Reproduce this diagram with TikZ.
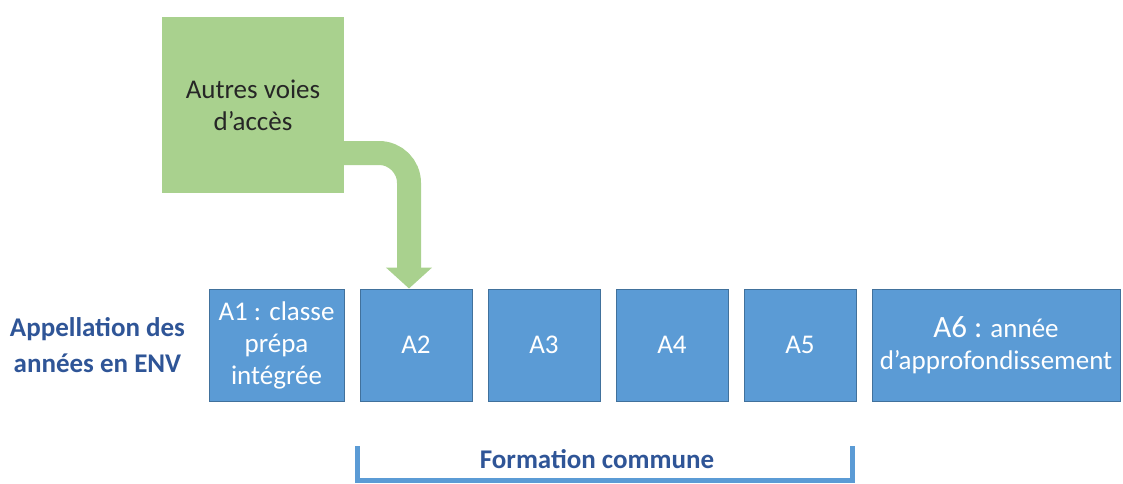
\documentclass[tikz,border=0pt]{standalone}
\usepackage{fontspec}
\setmainfont{Carlito}
\usepackage{tikz}
\definecolor{envblue}{RGB}{91,155,213}
\definecolor{envborder}{RGB}{65,113,156}
\definecolor{envdark}{RGB}{47,85,151}
\definecolor{voiegreen}{RGB}{169,209,142}
\usetikzlibrary{positioning}
\usetikzlibrary{arrows.meta}

\begin{document}
\begin{tikzpicture}[x=1pt,y=-1pt,
    node distance=15pt,
    year/.style={draw=envborder,fill=envblue,line width=1pt,text=white,
        minimum width=112pt,minimum height=112pt,inner sep=2pt,align=center,
        font=\fontsize{27}{32}\selectfont},
    voie/.style={fill=voiegreen,minimum width=182pt,minimum height=176pt,
        align=center,text=black!85,font=\fontsize{27}{32}\selectfont},
    rowtitle/.style={align=center,text=envdark,font=\fontsize{27}{36}\selectfont\bfseries},
    entry/.style={draw=voiegreen,line width=24pt,rounded corners=30pt,
        -{Triangle[width=45pt,length=21pt]}},
    bracket/.style={draw=envblue,line width=5pt}
]
\useasboundingbox (0,0) rectangle (1123,483);

\node[year, minimum width=135pt] (a1) at (276.5,345) {A1 : classe\\prépa\\intégrée};
\node[year, right=of a1] (a2) {A2};
\node[year, right=of a2] (a3) {A3};
\node[year, right=of a3] (a4) {A4};
\node[year, right=of a4] (a5) {A5};
\node[year, right=of a5, minimum width=248pt] (a6)
    {{\fontsize{31}{34}\selectfont A6 :} année\\d’approfondissement};
\node[rowtitle, left=20pt of a1] (appel) {Appellation des\\années en ENV};

\node[voie] (autres) at (253,105) {Autres voies\\d’accès};
\draw[entry] ([yshift=-48pt]autres.east) -| ([xshift=-7pt]a2.north);

% formation commune
\coordinate (fcl) at (357,446);
\coordinate (fcr) at (852,446);
\draw[bracket] (fcl) -- (fcl |- 0,480) -- (fcr |- 0,480) -- (fcr);
\node[text=envdark, font=\fontsize{27}{32}\selectfont\bfseries, anchor=base]
    (formation) at (597,468) {Formation commune};
\end{tikzpicture}
\end{document}
